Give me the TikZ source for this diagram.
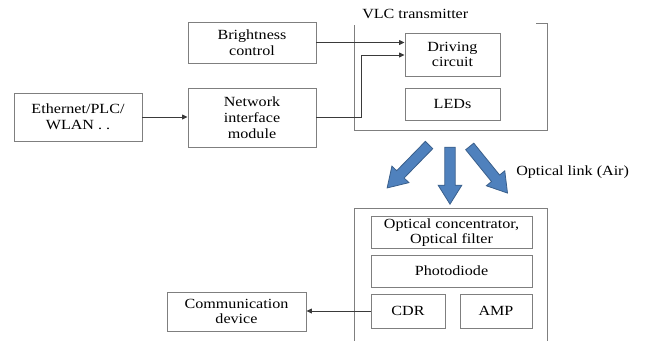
\documentclass[tikz,border=0pt]{standalone}
\usepackage{fontspec}
\setmainfont[FakeStretch=1.15]{Liberation Serif}
\usetikzlibrary{shapes.arrows,arrows.meta}
\definecolor{boxline}{HTML}{7F7F7F}
\definecolor{conline}{HTML}{3A3A3A}
\definecolor{arrfill}{HTML}{4F81BD}
\definecolor{arrdraw}{HTML}{3A5F8B}
\begin{document}
\begin{tikzpicture}[x=0.75pt,y=-0.75pt,
  box/.style={draw=boxline,line width=0.7pt,align=center,inner sep=1pt,
    font=\fontsize{10.5}{11.8}\selectfont},
  lbl/.style={inner sep=0pt,font=\fontsize{10.5}{11.8}\selectfont},
  conn/.style={draw=conline,line width=0.6pt,-{Triangle[length=4pt,width=3.6pt]}},
  frame/.style={draw=boxline,line width=0.7pt},
  blockarrow/.style={single arrow,draw=arrdraw,fill=arrfill,line width=0.6pt,
    inner xsep=0pt,inner ysep=3.6pt,single arrow head extend=5pt,
    single arrow tip angle=64,shape border uses incircle=false}]
\useasboundingbox (0,0) rectangle (647,340);

% transmitter side
\node[box,minimum width=96pt,minimum height=30.75pt] (bright) at (252,42.5) {Brightness\\control};
\node[box,minimum width=96pt,minimum height=44.25pt] (net) at (252,117.5) {Network\\interface\\module};
\node[box,minimum width=96pt,minimum height=36pt] (eth) at (78,117) {Ethernet/PLC/\\WLAN . .};
\node[box,minimum width=71.25pt,minimum height=32.25pt] (drv) at (452.5,54.5) {Driving\\circuit};
\node[box,minimum width=71.25pt,minimum height=24pt] (leds) at (452.5,104) {LEDs};
\draw[frame] (354,25) -- (354,130) -- (547,130) -- (547,23.5) -- (536,23.5);
\node[lbl,anchor=west] (vlc) at (362,14) {VLC transmitter};

\coordinate (bend) at (361,55);
\draw[conn] (eth.east) -- (eth.east -| net.west);
\draw[conn] (bright.east) -- (bright.east -| drv.west);
\draw[conn] (net.east) -| (bend) -- (bend -| drv.west);

% optical link
\node[blockarrow,minimum height=45pt,rotate=225.7] (a1) at (411,163.5) {};
\node[blockarrow,minimum height=42.75pt,rotate=270] (a2) at (450,171.5) {};
\node[blockarrow,minimum height=45pt,rotate=-51] (a3) at (486,166.5) {};
\node[lbl,anchor=west] (air) at (516,172) {Optical link (Air)};

% receiver side
\draw[frame] (354,341) -- (354,208) -- (547,208) -- (547,341);
\node[box,minimum width=120.75pt,minimum height=23.25pt] (oc) at (451.5,232.5) {Optical concentrator,\\Optical filter};
\node[box,minimum width=120.75pt,minimum height=24pt] (pd) at (451.5,271) {Photodiode};
\node[box,minimum width=55.5pt,minimum height=25.5pt] (cdr) at (408,311) {CDR};
\node[box,minimum width=54pt,minimum height=25.5pt] (amp) at (496,311) {AMP};
\node[box,minimum width=104.25pt,minimum height=29.25pt] (comm) at (236.5,311.5) {Communication\\device};
\draw[conn] (cdr.west) -- (cdr.west -| comm.east);
\end{tikzpicture}
\end{document}
